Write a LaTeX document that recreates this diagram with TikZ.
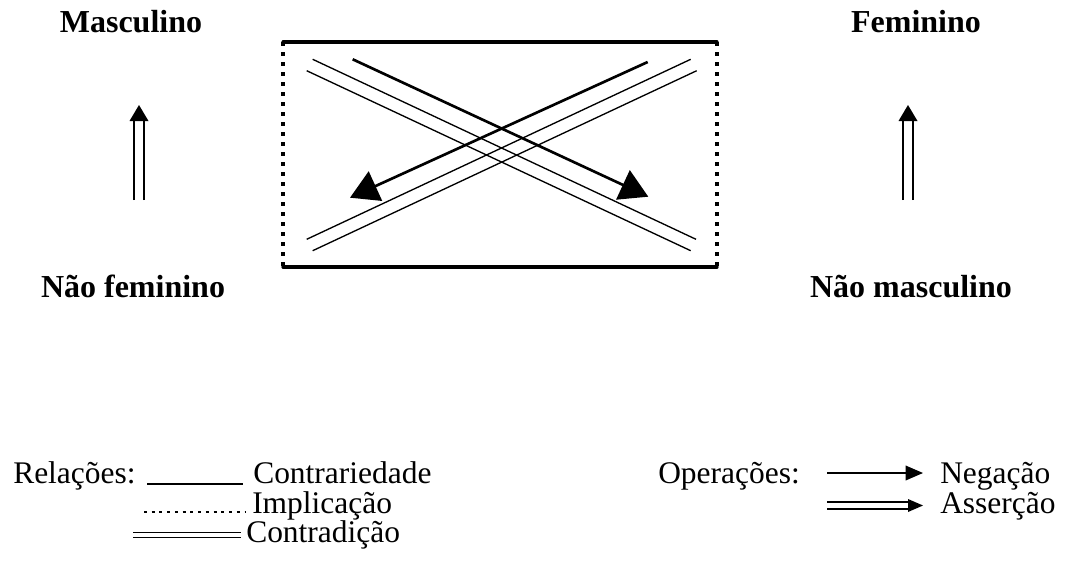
\documentclass[tikz,border=0pt]{standalone}
\usepackage{fontspec}
\setmainfont{Liberation Serif}
\usetikzlibrary{arrows.meta}
\tikzset{
  px/.style={x=0.75pt,y=-0.75pt},
  biglabel/.style={font=\fontsize{24}{28}\selectfont\bfseries, anchor=base, inner sep=0pt},
  legtext/.style={font=\fontsize{23.6}{28}\selectfont, anchor=base west, inner sep=0pt},
  boxline/.style={line width=2.4pt, line cap=round},
  boxside/.style={line width=2.4pt, dash pattern=on 3pt off 4.5pt},
  contra/.style={line width=1pt},
  negarrow/.style={line width=2pt, -{Triangle[length=21pt, width=24pt]}},
  assline/.style={line width=1.2pt},
  thinline/.style={line width=1pt},
  dotline/.style={line width=2.2pt, dash pattern=on 2.2pt off 3.6pt}
}
\begin{document}
\begin{tikzpicture}[px]
\useasboundingbox (0,0) rectangle (1068,568);
% labels
\node[biglabel] (masc) at (131,32) {Masculino};
\node[biglabel] (fem) at (916,32) {Feminino};
\node[biglabel] (nfem) at (133,297) {Não feminino};
\node[biglabel] (nmasc) at (911,297) {Não masculino};
% box
\coordinate (tl) at (283,42);
\coordinate (tr) at (717,42);
\coordinate (bl) at (283,267);
\coordinate (br) at (717,267);
\draw[boxline] (tl) -- (tr);
\draw[boxline] (bl) -- (br);
\draw[boxside] (tl) -- (bl);
\draw[boxside] (tr) -- (br);
% contradiction double lines
\coordinate (a1) at (312.7,59.3);  \coordinate (a2) at (696,239.3);
\coordinate (b1) at (306.7,70.7);  \coordinate (b2) at (690.7,250.7);
\coordinate (c1) at (306.7,239.3); \coordinate (c2) at (690.7,59.3);
\coordinate (d1) at (312.7,250.7); \coordinate (d2) at (696.7,70.7);
\draw[contra] (a1) -- (a2);
\draw[contra] (b1) -- (b2);
\draw[contra] (c1) -- (c2);
\draw[contra] (d1) -- (d2);
% negation arrows
\coordinate (n1s) at (352.7,59.3); \coordinate (n1e) at (648.3,196.7);
\coordinate (n2s) at (647.7,62);   \coordinate (n2e) at (350,197.7);
\draw[negarrow] (n1s) -- (n1e);
\draw[negarrow] (n2s) -- (n2e);
% assertion arrows (vertical)
\coordinate (lt) at (139,105);
\draw[assline] (134,200) -- (134,119);
\draw[assline] (144,200) -- (144,119);
\fill (lt) -- (129.5,121) -- (148.5,121) -- cycle;
\coordinate (rt) at (908,105);
\draw[assline] (903,200) -- (903,119);
\draw[assline] (913,200) -- (913,119);
\fill (rt) -- (898.5,121) -- (917.5,121) -- cycle;
% legend left
\node[legtext] (rel) at (13,483) {Relações:};
\node[legtext] (contr) at (253,483) {Contrariedade};
\node[legtext] (impl) at (252,513) {Implicação};
\node[legtext] (cdic) at (246,542) {Contradição};
\draw[thinline] (147,484) -- (243,484);
\draw[dotline] (144,512) -- (246,512);
\draw[thinline] (133,532.5) -- (241,532.5);
\draw[thinline] (133,537.5) -- (241,537.5);
% legend right
\node[legtext] (oper) at (658,483) {Operações:};
\node[legtext] (neg) at (940,483) {Negação};
\node[legtext] (ass) at (940,513) {Asserção};
\coordinate (ns) at (827,473); \coordinate (ne) at (923,473);
\draw[thinline, -{Triangle[length=13pt, width=11pt]}] (ns) -- (ne);
\draw[assline] (827,502) -- (912,502);
\draw[assline] (827,509) -- (912,509);
\fill (923,505.5) -- (908,499) -- (908,512) -- cycle;
\end{tikzpicture}
\end{document}
